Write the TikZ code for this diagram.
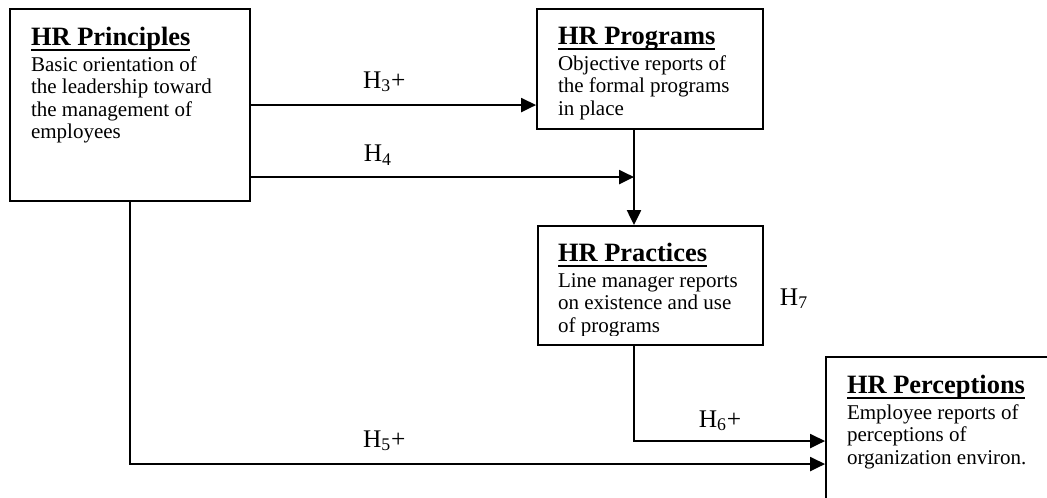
\documentclass[tikz,border=0pt]{standalone}
\usepackage{fontspec}
\setmainfont{Liberation Serif}
\usetikzlibrary{arrows.meta,positioning,calc,fit}

% bold heading with a heavy underline
\newcommand{\hrhead}[1]{{\fontsize{15.1}{15.1}\selectfont\bfseries\setbox0\hbox{#1}\rlap{\vrule width\wd0 height -2.35pt depth 3.45pt}\box0}}

\begin{document}
\begin{tikzpicture}[x=0.571pt, y=-0.571pt, >={Triangle[length=8.5pt,width=8pt]}, line width=1.1pt]
        \tikzstyle{box} = [rectangle, draw, inner sep=0pt]
        \tikzstyle{txt} = [inner sep=0pt, align=left, anchor=north west, font=\fontsize{12}{12.85}\selectfont]
        \tikzstyle{lbl} = [inner sep=0pt, anchor=base west, font=\fontsize{14.5}{14.5}\selectfont]
        \tikzstyle{line} = [draw, ->]

        \path[use as bounding box, clip] (0,0) rectangle (1047,497);

        \node [box, fit={(10,9) (250,201)}] (principles) {};
        \node [box, fit={(537,9) (763,129)}] (programs) {};
        \node [box, fit={(538,226) (763,345)}] (practices) {};
        \node [box, fit={(826,357) (1120,560)}] (perceptions) {};

        \node [txt] (principlestxt) at ($(principles.north west)+(21,18)$) {\hrhead{HR Principles}\\[2pt]Basic orientation of\\the leadership toward\\the management of\\employees};
        \begin{scope}
            \clip (programs.north west) rectangle ($(programs.south east)+(0,-10)$);
            \node [txt] (programstxt) at ($(programs.north west)+(21,18)$) {\hrhead{HR Programs}\\[2pt]Objective reports of\\the formal programs\\in place};
        \end{scope}
        \begin{scope}
            \clip (practices.north west) rectangle ($(practices.south east)+(0,-10)$);
            \node [txt] (practicestxt) at ($(practices.north west)+(20,17)$) {\hrhead{HR Practices}\\[2pt]Line manager reports\\on existence and use\\of programs};
        \end{scope}
        \node [txt] (perceptionstxt) at ($(perceptions.north west)+(21,18)$) {\hrhead{HR Perceptions}\\[2pt]Employee reports of\\perceptions of\\organization environ.};

        \node [lbl] (h7) at ($(practices.north east)+(15,80)$) {H\textsubscript{7}};

        \coordinate (pp) at ($(programs.south)+(-16,0)$);

        \path [line] ($(principles.north east)+(0,97)$) coordinate (a3) -- (a3 -| programs.west) node[lbl, pos=0.39, yshift=9.7pt] {H\textsubscript{3}+};
        \path [line] ($(principles.north east)+(0,169)$) coordinate (a4) -- (a4 -| pp) node[lbl, pos=0.292, yshift=8.6pt] {H\textsubscript{4}};
        \path [line] (pp) -- (pp |- practices.north);
        \path [line] (pp |- practices.south) |- ($(perceptions.north west)+(0,85)$) node[lbl, pos=0.667, yshift=8pt] {H\textsubscript{6}+};
        \path [line] (principles.south) |- ($(perceptions.north west)+(0,108)$) node[lbl, pos=0.667, yshift=9.7pt] {H\textsubscript{5}+};
    \end{tikzpicture}
\end{document}
